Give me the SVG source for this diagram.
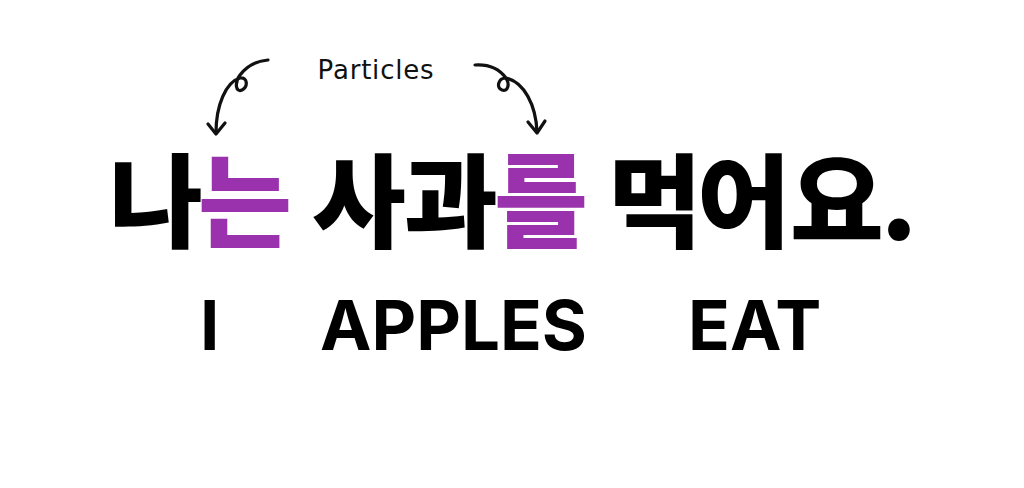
<svg xmlns="http://www.w3.org/2000/svg" width="1024" height="488" viewBox="0 0 1024 488">
<style>
.ko{font-family:"Noto Sans CJK KR","Noto Sans CJK SC",sans-serif;font-weight:900;font-size:102px;text-anchor:middle;fill:#000}
.p{fill:#9b32ad}
.en{font-family:Inter,"Liberation Sans",sans-serif;font-weight:700;font-size:69px;fill:#000}
.hand{font-family:"DejaVu Sans",sans-serif;font-size:26px;fill:#111;letter-spacing:0.8px}
.arr{fill:none;stroke:#111;stroke-width:3.2;stroke-linecap:round;stroke-linejoin:round}
</style>
<rect width="1024" height="488" fill="#fff"/>
<g id="connectors">
<path class="arr" d="M268,60 C256,61 246,67 240,75 C234,83 236,93 242,90 C248,87 248,77 240,78 C226,82 216,105 216,133"/>
<path class="arr" d="M208,124 L216,134 L225,123"/>
<path class="arr" d="M475,65 C490,64 500,70 506,78 C510,84 508,92 502,90 C496,88 498,78 506,78 C524,82 536,105 537,132"/>
<path class="arr" d="M528,122 L537,133 L545,121"/>
</g>
<g id="label-particles"><text class="hand" x="376" y="79" text-anchor="middle">Particles</text></g>
<g id="korean">
<text class="ko" y="240"><tspan x="156">나</tspan><tspan class="p" x="245">는</tspan><tspan x="359">사</tspan><tspan x="451">과</tspan><tspan class="p" x="541">를</tspan><tspan x="655">먹</tspan><tspan x="744">어</tspan><tspan x="837">요</tspan><tspan x="899">.</tspan></text>
</g>
<g id="english">
<text class="en" x="200" y="350">I</text>
<text class="en" x="320" y="350">APPLES</text>
<text class="en" x="688" y="350">EAT</text>
</g>
</svg>
